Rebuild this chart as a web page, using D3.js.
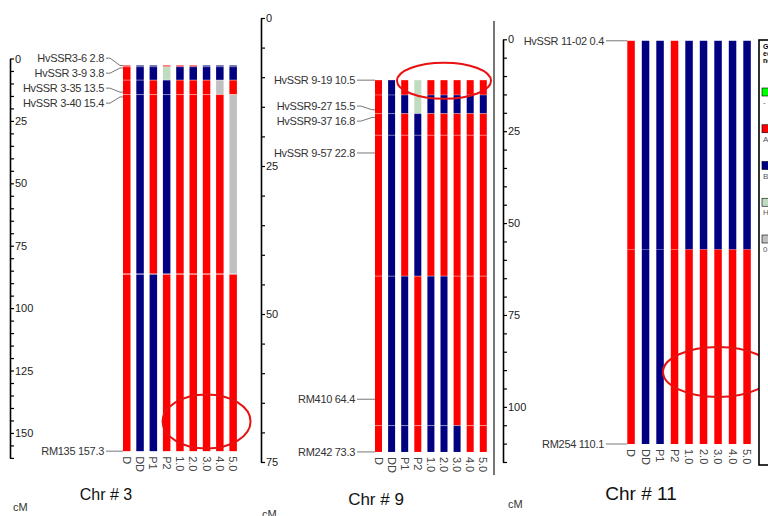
<!DOCTYPE html>
<html>
<head>
<meta charset="utf-8">
<script src="https://cdn.jsdelivr.net/npm/d3@7"></script>
<style>
  body { margin: 0; background: #fff; }
  svg { display: block; }
  text { font-family: "Liberation Sans", Arial, sans-serif; }
</style>
</head>
<body>
<svg id="chart" width="768" height="516"></svg>
<script>
// ---- data ----
const lines = ["D", "DD", "P1", "P2", "1.0", "2.0", "3.0", "4.0", "5.0"];
// genotype codes: A = red, B = navy, H = light green, U = grey (one letter per segment)

const chr3Markers = ["HvSSR3-6", "HvSSR 3-9", "HvSSR 3-35", "HvSSR 3-40", "RM135"];
const chr3Pos = [2.8, 3.8, 13.5, 15.4, 157.3];
const chr3Breaks = [2.8, 3.3, 8.65, 14.45, 86.35, 157.3];
const chr3Geno = ["AAAAA", "BBBBB", "BBAAB", "AHBBA", "ABAAA", "ABAAA", "BBAAA", "BBUAA", "BBAUA"];

const chr9Markers = ["HvSSR 9-19", "HvSSR9-27", "HvSSR9-37", "HvSSR 9-57", "RM410", "RM242"];
const chr9Pos = [10.5, 15.5, 16.8, 22.8, 64.4, 73.3];
const chr9Breaks = [10.5, 13, 16.15, 19.8, 43.6, 68.85, 73.3];
const chr9Geno = ["AAAAAA", "BBBBBB", "ABAABB", "HHBBAA", "ABAABB", "ABAABB", "ABAAAB", "ABAAAA", "ABAAAA"];

const chr11Markers = ["HvSSR 11-02", "RM254"];
const chr11Pos = [0.4, 110.1];
const chr11Breaks = [0.4, 57.2, 110.1];
const chr11Geno = ["AA", "BB", "BB", "AA", "BA", "BA", "BA", "BA", "BA"];

// highlighted regions: centre line index, centre cM
const chr3Circle = [6, 145.4];
const chr9Circle = [5, 10.6];
const chr11Circle = [6, 90.5];

const legendColors = ["#00ff00", "#ff0000", "#000080", "#c0dcc0", "#c0c0c0"];
const legendLabels = ["-", "A", "B", "H", "0"];

const genoColor = { A: "#ff0000", B: "#000080", H: "#c0dcc0", U: "#c0c0c0" };

// ---- layout ----
const panels = [
  { title: "Chr # 3", markers: chr3Markers, pos: chr3Pos, breaks: chr3Breaks, geno: chr3Geno, circle: chr3Circle,
    maxCM: 160, axisX: 10, yTop: 58.5, yBot: 457.9, barX0: 123, step: 13.3, barW: 7.5, labelEnd: 104,
    titleX: 106, titleY: 500, titleSize: 16, cmX: 13, cmY: 511, rx: 44, ry: 27, sepOpacity: [0.4, 0.4, 0.4, 0.9] },
  { title: "Chr # 9", markers: chr9Markers, pos: chr9Pos, breaks: chr9Breaks, geno: chr9Geno, circle: chr9Circle,
    maxCM: 75, axisX: 261, yTop: 18, yBot: 462, barX0: 375, step: 13.1, barW: 7, labelEnd: 355,
    titleX: 376, titleY: 505, titleSize: 17, cmX: 262, cmY: 518, rx: 47, ry: 18, sepOpacity: [0.35, 0.35, 0.35, 0.4, 0.4] },
  { title: "Chr # 11", markers: chr11Markers, pos: chr11Pos, breaks: chr11Breaks, geno: chr11Geno, circle: chr11Circle,
    maxCM: 115, axisX: 503, yTop: 39.3, yBot: 462, barX0: 627.3, step: 14.5, barW: 7.5, labelEnd: 604,
    titleX: 641, titleY: 500, titleSize: 19, cmX: 508, cmY: 508, rx: 55, ry: 25, sepOpacity: [0.15] }
];

const svg = d3.select("#chart");

// spread crowded marker labels so they keep a minimum gap
function spread(ys, gap) {
  let clusters = ys.map((y, i) => ({ idx: [i] }));
  const mean = c => d3.mean(c.idx, k => ys[k]);
  let changed = true;
  while (changed) {
    changed = false;
    for (let i = 0; i < clusters.length - 1; i++) {
      const a = clusters[i], b = clusters[i + 1];
      const aBot = mean(a) + (a.idx.length - 1) / 2 * gap;
      const bTop = mean(b) - (b.idx.length - 1) / 2 * gap;
      if (bTop - aBot < gap) {
        clusters.splice(i, 2, { idx: a.idx.concat(b.idx) });
        changed = true;
        break;
      }
    }
  }
  const out = [];
  clusters.forEach(c => {
    const m = mean(c);
    c.idx.forEach((k, j) => { out[k] = m + (j - (c.idx.length - 1) / 2) * gap; });
  });
  return out;
}

// grey divider between the 2nd and 3rd figure
svg.append("line")
  .attr("x1", 494).attr("x2", 494).attr("y1", 21).attr("y2", 475)
  .attr("stroke", "#777").attr("stroke-width", 2);

panels.forEach(p => {
  const y = d3.scaleLinear().domain([0, p.maxCM]).range([p.yTop, p.yBot]);
  const x = d3.scaleBand().domain(lines)
    .range([p.barX0, p.barX0 + 8 * p.step + p.barW])
    .paddingInner(1 - p.barW / p.step).paddingOuter(0);

  const g = svg.append("g");

  // axis
  const axis = d3.axisRight(y)
    .tickValues(d3.range(0, p.maxCM + 0.1, 5))
    .tickFormat(d => d % 25 === 0 ? d : "")
    .tickSize(4).tickSizeOuter(0).tickPadding(1);
  const ax = g.append("g").attr("transform", `translate(${p.axisX},0)`).call(axis);
  ax.select(".domain").attr("stroke", "#000").attr("stroke-width", 1.6);
  ax.selectAll(".tick line").attr("stroke", "#000").attr("stroke-width", 1.2);
  ax.selectAll(".tick text").attr("font-size", 11).attr("fill", "#222")
    .attr("font-family", "Liberation Sans, Arial, sans-serif");

  // genotype bars
  p.geno.forEach((codes, li) => {
    const segs = codes.split("").map((c, k) => ({ c, y0: p.breaks[k], y1: p.breaks[k + 1] }));
    g.append("g").selectAll("rect").data(segs).join("rect")
      .attr("x", x(lines[li]))
      .attr("width", x.bandwidth())
      .attr("y", d => y(d.y0))
      .attr("height", d => Math.max(0.8, y(d.y1) - y(d.y0)))
      .attr("fill", d => genoColor[d.c]);
  });

  // faint separators at segment breaks
  g.append("g").selectAll("line").data(p.breaks.slice(1, -1)).join("line")
    .attr("x1", x(lines[0])).attr("x2", x(lines[lines.length - 1]) + x.bandwidth())
    .attr("y1", d => y(d)).attr("y2", d => y(d))
    .attr("stroke", "#fff").attr("stroke-opacity", (d, i) => p.sepOpacity[i]).attr("stroke-width", 1);

  // marker labels and leader lines
  const ly = spread(p.pos.map(v => y(v)), 15);
  const bx = x(lines[0]);
  g.append("g").selectAll("path").data(p.pos).join("path")
    .attr("d", (d, i) => `M${p.labelEnd + 2},${ly[i]}H${p.labelEnd + 6}L${bx - 3},${y(d)}H${bx}`)
    .attr("fill", "none").attr("stroke", "#777").attr("stroke-width", 1);
  g.append("g").selectAll("text").data(p.markers).join("text")
    .attr("x", p.labelEnd).attr("y", (d, i) => ly[i]).attr("dy", "0.35em")
    .attr("text-anchor", "end").attr("font-size", 11).attr("fill", "#333")
    .attr("letter-spacing", -0.3)
    .text((d, i) => `${d} ${p.pos[i]}`);

  // line names under the bars
  const yEnd = y(p.pos[p.pos.length - 1]) + 5;
  g.append("g").selectAll("text").data(lines).join("text")
    .attr("transform", d => `translate(${x(d) + x.bandwidth() / 2},${yEnd}) rotate(90)`)
    .attr("dy", "0.35em").attr("font-size", 11).attr("fill", "#444")
    .text(d => d);

  // highlight ellipse
  g.append("ellipse")
    .attr("cx", x(lines[p.circle[0]]) + x.bandwidth() / 2)
    .attr("cy", y(p.circle[1]))
    .attr("rx", p.rx).attr("ry", p.ry)
    .attr("fill", "none").attr("stroke", "#e81010").attr("stroke-width", 2);

  // titles
  g.append("text").attr("x", p.titleX).attr("y", p.titleY)
    .attr("text-anchor", "middle").attr("font-size", p.titleSize)
    .attr("font-family", "Lato, 'Open Sans', sans-serif").attr("fill", "#111")
    .text(p.title);
  g.append("text").attr("x", p.cmX).attr("y", p.cmY)
    .attr("font-size", 11).attr("fill", "#333").text("cM");
});

// legend (cut off at the right edge)
const lg = svg.append("g");
lg.append("rect").attr("x", 759).attr("y", 40).attr("width", 30).attr("height", 425)
  .attr("fill", "#fff").attr("stroke", "#000").attr("stroke-width", 1.6);
["G", "e", "n"].forEach((t, i) => {
  lg.append("text").attr("x", 763).attr("y", 49 + i * 7).attr("font-size", 7)
    .attr("font-weight", "bold").attr("fill", "#000").text(t + "enotype");
});
const ly0 = d3.scalePoint().domain(d3.range(legendColors.length)).range([88, 235]);
lg.selectAll(".sw").data(legendColors).join("rect")
  .attr("x", 762).attr("y", (d, i) => ly0(i)).attr("width", 9).attr("height", 8)
  .attr("fill", d => d).attr("stroke", "#000").attr("stroke-width", 0.6);
lg.selectAll(".lt").data(legendLabels).join("text")
  .attr("x", 763).attr("y", (d, i) => ly0(i) + 17).attr("font-size", 8).attr("fill", "#555")
  .text(d => d);
</script>
</body>
</html>
